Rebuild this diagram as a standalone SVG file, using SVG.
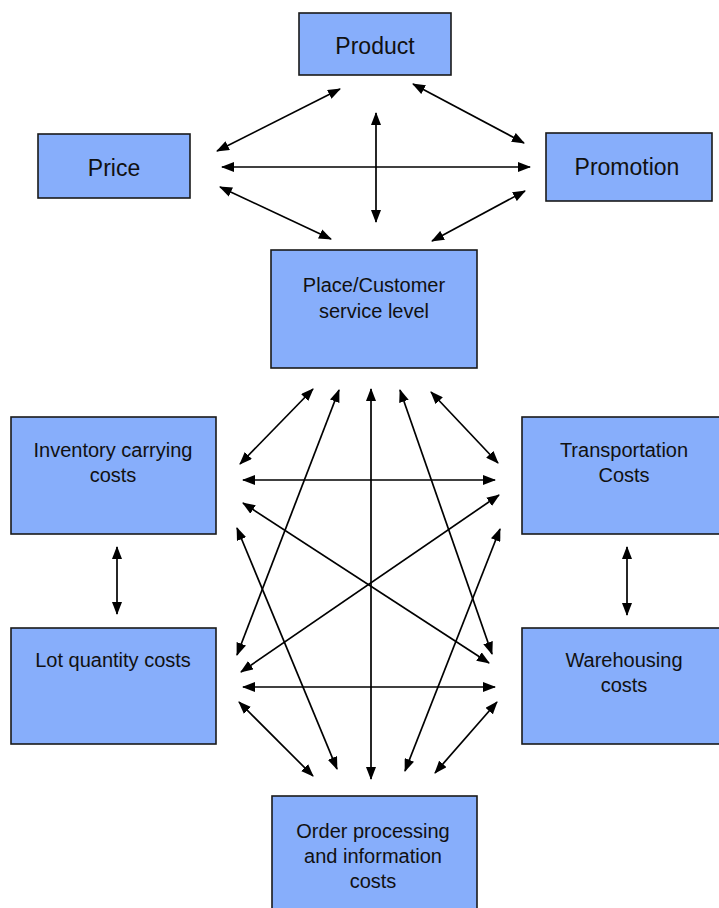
<svg xmlns="http://www.w3.org/2000/svg" width="719" height="908" viewBox="0 0 719 908">
<style>
.box{fill:#87aefb;stroke:#1a1a1a;stroke-width:1.6}
.t{font-family:"Liberation Sans",Arial,sans-serif;font-size:20px;fill:#111;text-anchor:middle}
.big{font-size:23px}
.c{stroke:#000;stroke-width:1.7;fill:none;marker-start:url(#ah);marker-end:url(#ah)}
</style>
<defs>
<marker id="ah" markerWidth="13" markerHeight="10" refX="12" refY="5" orient="auto-start-reverse" markerUnits="userSpaceOnUse">
<path d="M0,0 L13,5 L0,10 z" fill="#000"/>
</marker>
</defs>
<rect width="719" height="908" fill="#fff"/>
<g id="connectors">
<line class="c" x1="217" y1="151" x2="340" y2="89"/>
<line class="c" x1="413" y1="84" x2="524" y2="143"/>
<line class="c" x1="376" y1="113" x2="376" y2="222"/>
<line class="c" x1="222" y1="167" x2="530" y2="167"/>
<line class="c" x1="220" y1="187" x2="331" y2="239"/>
<line class="c" x1="525" y1="191" x2="432" y2="241"/>
<line class="c" x1="313" y1="389" x2="240" y2="464"/>
<line class="c" x1="339" y1="390" x2="237" y2="655"/>
<line class="c" x1="371" y1="389" x2="371" y2="779"/>
<line class="c" x1="400" y1="390" x2="492" y2="654"/>
<line class="c" x1="431" y1="392" x2="498" y2="463"/>
<line class="c" x1="243" y1="480" x2="495" y2="480"/>
<line class="c" x1="243" y1="503" x2="489" y2="663"/>
<line class="c" x1="237" y1="528" x2="337" y2="769"/>
<line class="c" x1="499" y1="495" x2="241" y2="672"/>
<line class="c" x1="500" y1="529" x2="405" y2="771"/>
<line class="c" x1="243" y1="687" x2="495" y2="687"/>
<line class="c" x1="239" y1="702" x2="313" y2="776"/>
<line class="c" x1="497" y1="702" x2="435" y2="773"/>
<line class="c" x1="117" y1="547" x2="117" y2="614"/>
<line class="c" x1="627" y1="547" x2="627" y2="615"/>
</g>
<g id="product"><rect class="box" x="299" y="13" width="152" height="62"/><text class="t big" x="375" y="54">Product</text></g>
<g id="price"><rect class="box" x="38" y="134" width="152" height="64"/><text class="t big" x="114" y="176">Price</text></g>
<g id="promotion"><rect class="box" x="546" y="133" width="166" height="68"/><text class="t big" x="627" y="175">Promotion</text></g>
<g id="place"><rect class="box" x="271" y="250" width="206" height="118"/><text class="t" x="374" y="292">Place/Customer</text><text class="t" x="374" y="318">service level</text></g>
<g id="inventory"><rect class="box" x="11" y="417" width="205" height="117"/><text class="t" x="113" y="457">Inventory carrying</text><text class="t" x="113" y="482">costs</text></g>
<g id="transportation"><rect class="box" x="522" y="417" width="200" height="117"/><text class="t" x="624" y="457">Transportation</text><text class="t" x="624" y="482">Costs</text></g>
<g id="lot"><rect class="box" x="11" y="628" width="205" height="116"/><text class="t" x="113" y="667">Lot quantity costs</text></g>
<g id="warehousing"><rect class="box" x="522" y="628" width="200" height="116"/><text class="t" x="624" y="667">Warehousing</text><text class="t" x="624" y="692">costs</text></g>
<g id="order"><rect class="box" x="272" y="796" width="205" height="120"/><text class="t" x="373" y="838">Order processing</text><text class="t" x="373" y="863">and information</text><text class="t" x="373" y="888">costs</text></g>
</svg>
